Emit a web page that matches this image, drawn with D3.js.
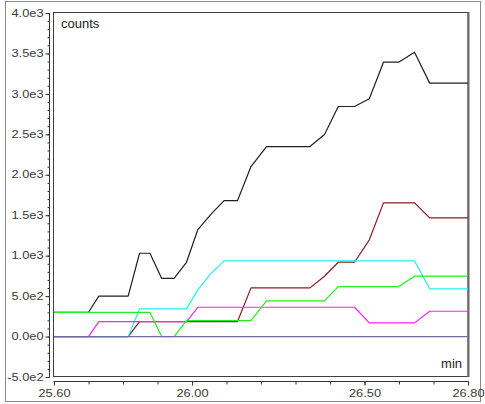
<!DOCTYPE html>
<html>
<head>
<meta charset="utf-8">
<script src="https://cdn.jsdelivr.net/npm/d3@7"></script>
<style>
  html, body { margin: 0; padding: 0; background: #fff; }
  svg { display: block; }
  text { font-family: "Liberation Sans", Arial, sans-serif; }
</style>
</head>
<body>
<script>
// ---- data ----
const times = [25.60, 25.70, 25.73, 25.815, 25.848, 25.878, 25.912, 25.948, 25.984, 26.017, 26.054, 26.093, 26.132, 26.171, 26.216, 26.342, 26.384, 26.424, 26.471, 26.514, 26.555, 26.599, 26.645, 26.689, 26.80];
const blackSeries   = [300,300,500,500,1030,1030,720,720,918,1323,1508,1681,1681,2102,2349,2349,2497,2844,2844,2939,3392,3392,3516,3133,3133];
const maroonSeries  = [0,0,0,0,185,185,185,185,185,185,185,185,185,602,602,602,746,919,919,1196,1653,1653,1653,1468,1468];
const cyanSeries    = [0,0,0,0,342,342,342,342,342,577,775,936,936,936,936,936,936,936,936,936,936,936,936,590,590];
const magentaSeries = [0,0,185,185,185,185,185,185,185,362,362,362,362,362,362,362,362,362,362,169,169,169,169,313,313];
const greenSeries   = [300,300,300,300,300,300,0,0,198,198,198,198,198,198,441,441,441,618,618,618,618,618,746,746,746];
const navySeries    = [0,0,0,0,0,0,0,0,0,0,0,0,0,0,0,0,0,0,0,0,0,0,0,0,0];

const yMajorTicks = [-500, 0, 500, 1000, 1500, 2000, 2500, 3000, 3500, 4000];
const yMinorTicks = d3.range(-500, 4001, 100);
const xMajorTicks = [25.60, 26.00, 26.50, 26.80];
const xTickLabels = ["25.60", "26.00", "26.50", "26.80"];
const xMinorTicks = d3.range(25.6, 26.81, 0.1).map(v => +v.toFixed(2));
const yTitle = "counts";
const xTitle = "min";

// ---- layout ----
const W = 485, H = 404;
const plot = { left: 53.5, top: 12.5, right: 468, bottom: 376.5 };
const x = d3.scaleLinear().domain([25.6, 26.8]).range([54, 468]);
const y = d3.scaleLinear().domain([-500, 4000]).range([377, 13]);

const svg = d3.select("body").append("svg").attr("width", W).attr("height", H);

// outer border
svg.append("rect").attr("x", 5.5).attr("y", 1.5).attr("width", 475).attr("height", 400)
  .attr("fill", "none").attr("stroke", "#8a8a8a").attr("stroke-width", 1);

// plot frame
svg.append("rect").attr("x", plot.left).attr("y", plot.top)
  .attr("width", plot.right - plot.left).attr("height", plot.bottom - plot.top)
  .attr("fill", "#fff").attr("stroke", "#404040").attr("stroke-width", 1);
svg.append("line").attr("x1", plot.right + 0.5).attr("x2", plot.right + 0.5)
  .attr("y1", plot.top - 0.5).attr("y2", plot.bottom + 0.5)
  .attr("stroke", "#6a6a6a").attr("stroke-width", 2);

// y axis
const fmt = v => d3.format(".1e")(v).replace("+", "").replace("\u2212", "-");
const yAxisX = 49.5;
const gy = svg.append("g").attr("transform", `translate(${yAxisX},0)`);
gy.call(d3.axisLeft(y).tickValues(yMinorTicks).tickSize(2).tickFormat(""))
  .call(g => g.select(".domain").remove());
gy.append("g").call(d3.axisLeft(y).tickValues(yMajorTicks).tickSize(4).tickPadding(2).tickFormat(fmt))
  .call(g => g.select(".domain").remove());
gy.append("line").attr("x1", 0).attr("x2", 0).attr("y1", y(4000)).attr("y2", y(-500)).attr("stroke", "#333");
gy.selectAll("line").attr("stroke", "#333");
gy.selectAll("text").attr("font-size", 10).attr("fill", "#3a3a3a")
  .attr("font-family", "Liberation Sans, Arial, sans-serif");

// x axis
const xAxisY = 381.5;
const gx = svg.append("g").attr("transform", `translate(0,${xAxisY})`);
gx.call(d3.axisBottom(x).tickValues(xMinorTicks).tickSize(3).tickFormat(""))
  .call(g => g.select(".domain").remove());
gx.append("g").call(d3.axisBottom(x).tickValues(xMajorTicks).tickSize(4).tickPadding(4)
    .tickFormat((d, i) => xTickLabels[i]))
  .call(g => g.select(".domain").remove());
gx.append("line").attr("x1", 53.5).attr("x2", 468.5).attr("y1", 0).attr("y2", 0).attr("stroke", "#333");
gx.selectAll("line").attr("stroke", "#333");
gx.selectAll("text").attr("font-size", 10).attr("fill", "#3a3a3a")
  .attr("font-family", "Liberation Sans, Arial, sans-serif");

// stretch tick labels horizontally
svg.selectAll("g.tick text").each(function() {
  const w = this.getComputedTextLength();
  if (w > 0) d3.select(this).attr("textLength", w * 1.28).attr("lengthAdjust", "spacingAndGlyphs");
});

// series
const series = [
  { values: blackSeries,   color: "#202020" },
  { values: maroonSeries,  color: "#8b1c1c" },
  { values: cyanSeries,    color: "#22f0f0" },
  { values: magentaSeries, color: "#ff22ff" },
  { values: greenSeries,   color: "#22ee22" },
  { values: navySeries,    color: "#6e6ea0" }
];
const line = d3.line().x((d, i) => x(times[i])).y(d => y(d));
const gl = svg.append("g");
series.forEach(s => {
  gl.append("path").datum(s.values).attr("d", line)
    .attr("fill", "none").attr("stroke", s.color).attr("stroke-width", 1.2)
    .attr("stroke-linejoin", "round");
});

// titles
svg.append("text").attr("x", 61).attr("y", 28).attr("font-size", 13).attr("fill", "#222").text(yTitle);
svg.append("text").attr("x", 462).attr("y", 368).attr("text-anchor", "end")
  .attr("font-size", 13).attr("fill", "#222").text(xTitle);
</script>
</body>
</html>
